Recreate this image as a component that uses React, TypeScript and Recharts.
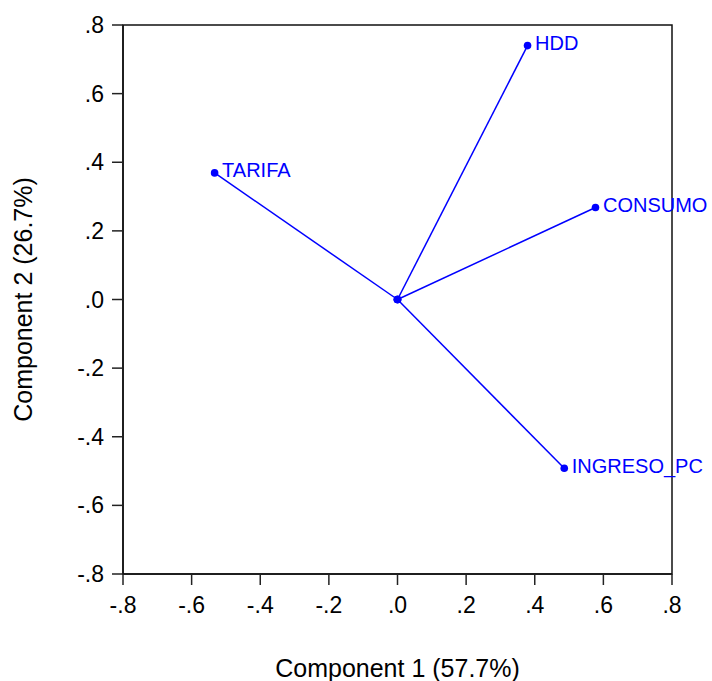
import { LabelList, ReferenceArea, Scatter, ScatterChart, XAxis, YAxis } from 'recharts'

const VARIABLES = ['HDD', 'TARIFA', 'CONSUMO', 'INGRESO_PC']
const COMPONENT_1 = [0.379, -0.533, 0.577, 0.486]
const COMPONENT_2 = [0.74, 0.369, 0.268, -0.492]
const AXIS_TICKS = [-0.8, -0.6, -0.4, -0.2, 0, 0.2, 0.4, 0.6, 0.8]

const BLUE = '#0000ff'
const FONT = '"Liberation Sans", Arial, sans-serif'

function formatTick(v: number) {
  const s = Math.abs(v).toFixed(1).replace(/^0/, '')
  return v < 0 ? '-' + s : s
}

function Dot(props: any) {
  return <circle cx={props.cx} cy={props.cy} r={3.8} fill={BLUE} />
}

function NameLabel(props: any) {
  if (!props.value) return null
  return (
    <text x={props.x + 12} y={props.y + 2} dominantBaseline="central" fill={BLUE} fontSize={20} fontFamily={FONT}>
      {props.value}
    </text>
  )
}

function AxisTick(props: any) {
  const { x, y, payload, orientation } = props
  if (orientation === 'left') {
    return (
      <text x={x} y={y} textAnchor="end" dominantBaseline="central" fontSize={23} fontFamily={FONT} fill="#000">
        {formatTick(payload.value)}
      </text>
    )
  }
  return (
    <text x={x} y={y} textAnchor="middle" dominantBaseline="hanging" fontSize={23} fontFamily={FONT} fill="#000">
      {formatTick(payload.value)}
    </text>
  )
}

export default function App() {
  const vectors = VARIABLES.map((name, i) => [
    { x: 0, y: 0, name: '' },
    { x: COMPONENT_1[i], y: COMPONENT_2[i], name },
  ])

  return (
    <div style={{ position: 'absolute', left: 0, top: 0, background: '#fff' }}>
      <ScatterChart width={712} height={681} margin={{ top: 25, right: 40, left: 0, bottom: 0 }}>
        <XAxis
          type="number"
          dataKey="x"
          domain={[-0.8, 0.8]}
          ticks={AXIS_TICKS}
          height={107}
          tickSize={11}
          tickMargin={11}
          tick={<AxisTick orientation="bottom" />}
          tickLine={{ stroke: '#222', strokeWidth: 1.5 }}
          axisLine={{ stroke: '#111', strokeWidth: 1.5 }}
          label={({ viewBox }: any) => (
            <text
              x={viewBox.x + viewBox.width / 2}
              y={viewBox.y + 94}
              textAnchor="middle"
              dominantBaseline="central"
              fontSize={25}
              fontFamily={FONT}
              fill="#000"
            >
              Component 1 (57.7%)
            </text>
          )}
        />
        <YAxis
          type="number"
          dataKey="y"
          domain={[-0.8, 0.8]}
          ticks={AXIS_TICKS}
          width={123}
          tickSize={11}
          tickMargin={8}
          tick={<AxisTick orientation="left" />}
          tickLine={{ stroke: '#222', strokeWidth: 1.5 }}
          axisLine={{ stroke: '#111', strokeWidth: 1.5 }}
          label={({ viewBox }: any) => {
            const cx = 23
            const cy = viewBox.y + viewBox.height / 2
            return (
              <text
                x={cx}
                y={cy}
                transform={`rotate(-90 ${cx} ${cy})`}
                textAnchor="middle"
                dominantBaseline="central"
                fontSize={25}
                fontFamily={FONT}
                fill="#000"
              >
                Component 2 (26.7%)
              </text>
            )
          }}
        />
        {vectors.map((data, i) => (
          <Scatter
            key={VARIABLES[i]}
            data={data}
            line={{ stroke: BLUE, strokeWidth: 1.5 }}
            shape={<Dot />}
            isAnimationActive={false}
          >
            <LabelList dataKey="name" content={<NameLabel />} />
          </Scatter>
        ))}
        <ReferenceArea x1={-0.8} x2={0.8} y1={-0.8} y2={0.8} fill="none" stroke="#111" strokeWidth={1.5} />
      </ScatterChart>
    </div>
  )
}
